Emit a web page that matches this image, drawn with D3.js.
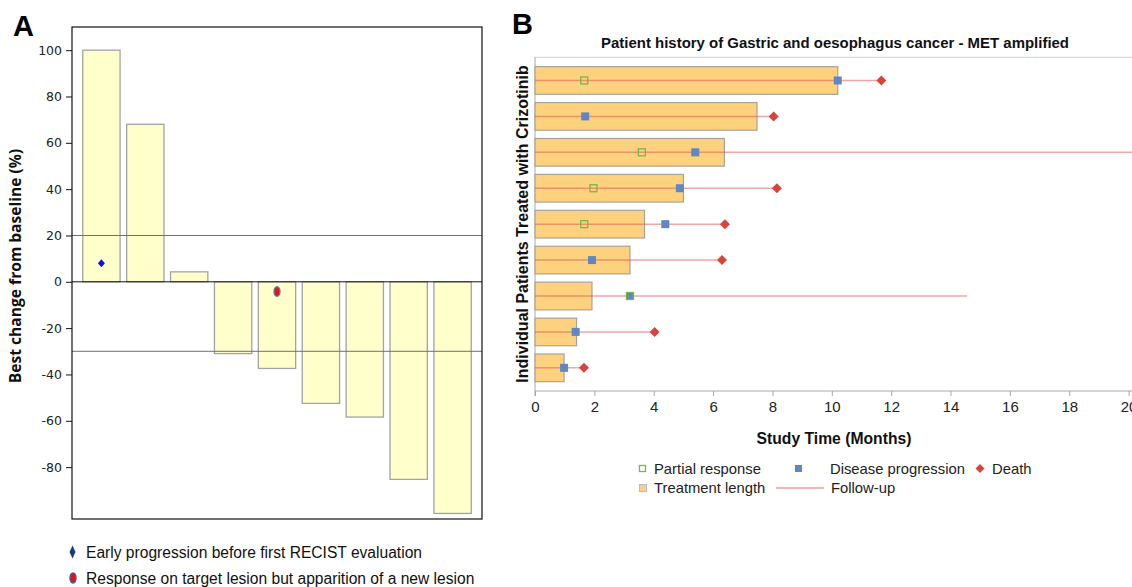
<!DOCTYPE html>
<html><head><meta charset="utf-8">
<script src="https://cdn.jsdelivr.net/npm/d3@7"></script>
<style>body{margin:0;background:#fff;} svg{display:block;}</style>
</head><body>
<svg id="c" width="1132" height="587"></svg>
<script>
// ---------- Panel A data ----------
const patientsA = ["1","2","3","4","5","6","7","8","9"];
const bestChange = [100, 68, 4.3, -31, -37.4, -52.5, -58.4, -85.3, -100];
const yTicksA = [100, 80, 60, 40, 20, 0, -20, -40, -60, -80];
const refLinesA = [20, -30];
const earlyProgression = [{patient: "1", value: 8}];
const newLesion = [{patient: "5", value: -4.2}];
const legendA = ["Early progression before first RECIST evaluation",
                 "Response on target lesion but apparition of a new lesion"];

// ---------- Panel B data ----------
const patientsB = ["1","2","3","4","5","6","7","8","9"];
const treatmentLength = [10.2, 7.48, 6.38, 5.0, 3.69, 3.2, 1.92, 1.40, 0.98];
const followUp = [11.67, 8.04, 20.3, 8.15, 6.4, 6.3, 14.56, 4.03, 1.65];
const partialResponse = [1.66, null, 3.6, 1.97, 1.66, null, 3.2, null, null];
const diseaseProgression = [10.2, 1.69, 5.4, 4.88, 4.39, 1.92, 3.2, 1.37, 0.98];
const death = [11.67, 8.04, null, 8.15, 6.4, 6.3, null, 4.03, 1.65];
const xTicksB = [0, 2, 4, 6, 8, 10, 12, 14, 16, 18, 20];
const titleB = "Patient history of Gastric and oesophagus cancer - MET amplified";

const svg = d3.select("#c");

// ================= PANEL A =================
const A = {l: 72, r: 482, t: 27, b: 519};
const xA = d3.scaleBand().domain(patientsA).range([A.l, A.r]).paddingInner(0.15).paddingOuter(0.245);
const yA = d3.scaleLinear().domain([-102.4, 110]).range([A.b, A.t]);

svg.append("text").attr("x", 13).attr("y", 36).text("A")
  .style("font-family", "Liberation Sans, Arial").style("font-weight", "bold").style("font-size", "29px");

const gA = svg.append("g");
gA.selectAll("rect.bar").data(bestChange).join("rect").attr("class", "bar")
  .attr("x", (d, i) => xA(patientsA[i]))
  .attr("width", xA.bandwidth())
  .attr("y", d => yA(Math.max(0, d)))
  .attr("height", d => Math.abs(yA(d) - yA(0)))
  .attr("fill", "#ffffcc").attr("stroke", "#a3a3a3").attr("stroke-width", 1.3);

gA.selectAll("line.ref").data(refLinesA).join("line").attr("class", "ref")
  .attr("x1", A.l).attr("x2", A.r).attr("y1", d => yA(d)).attr("y2", d => yA(d))
  .attr("stroke", "#6e6e6e").attr("stroke-width", 1);
gA.append("line").attr("x1", A.l).attr("x2", A.r).attr("y1", yA(0)).attr("y2", yA(0))
  .attr("stroke", "#111").attr("stroke-width", 1);

gA.append("rect").attr("x", A.l).attr("y", A.t).attr("width", A.r - A.l).attr("height", A.b - A.t)
  .attr("fill", "none").attr("stroke", "#111").attr("stroke-width", 1.2);

const axA = gA.append("g").attr("transform", `translate(${A.l},0)`)
  .call(d3.axisLeft(yA).tickValues(yTicksA).tickFormat(d => String(d)).tickSize(6).tickPadding(4));
axA.select(".domain").remove();
axA.selectAll("line").attr("stroke", "#111");
axA.selectAll("text").style("font-family", "DejaVu Sans").style("font-size", "12.5px").attr("fill", "#222");

svg.append("text").attr("transform", `translate(21,${(A.t + A.b) / 2 - 7}) rotate(-90)`)
  .attr("text-anchor", "middle").text("Best change from baseline (%)")
  .style("font-family", "Open Sans").style("font-weight", "bold").style("font-size", "15.6px").attr("fill", "#111");

// markers
function diamondPath(cx, cy, w, h) {
  return `M${cx},${cy - h / 2}L${cx + w / 2},${cy}L${cx},${cy + h / 2}L${cx - w / 2},${cy}Z`;
}
gA.selectAll("path.ep").data(earlyProgression).join("path").attr("class", "ep")
  .attr("d", d => diamondPath(xA(d.patient) + xA.bandwidth() / 2, yA(d.value), 7, 8))
  .attr("fill", "#1010ee");
gA.selectAll("ellipse.nl").data(newLesion).join("ellipse").attr("class", "nl")
  .attr("cx", d => xA(d.patient) + xA.bandwidth() / 2).attr("cy", d => yA(d.value))
  .attr("rx", 3).attr("ry", 4.8).attr("fill", "#ee1111").attr("stroke", "#5a7fb0").attr("stroke-width", 1.3);

// legend A
const legA = svg.append("g");
legA.append("path").attr("d", diamondPath(72.5, 552, 6, 13)).attr("fill", "#1d3a7a");
legA.append("ellipse").attr("cx", 73).attr("cy", 578).attr("rx", 3).attr("ry", 5)
  .attr("fill", "#e81010").attr("stroke", "#3d5f9a").attr("stroke-width", 1.4);
legA.selectAll("text").data(legendA).join("text")
  .attr("x", 86).attr("y", (d, i) => 557.5 + i * 26).text(d => d)
  .style("font-family", "Liberation Sans, Arial").style("font-size", "15.6px").attr("fill", "#111");

// ================= PANEL B =================
const B = {l: 535, r: 1132, t: 57.3, b: 391};
const xB = d3.scaleLinear().domain([0, 20]).range([535, 1128.6]);
const yB = d3.scaleBand().domain(patientsB).range([B.t, B.b]).paddingInner(0.23).paddingOuter(0.26);

svg.append("text").attr("x", 512).attr("y", 34).text("B")
  .style("font-family", "Liberation Sans, Arial").style("font-weight", "bold").style("font-size", "29px");

svg.append("text").attr("x", 835).attr("y", 48).attr("text-anchor", "middle").text(titleB)
  .style("font-family", "Liberation Sans, Arial").style("font-weight", "bold").style("font-size", "15px")
  .attr("textLength", 468).attr("lengthAdjust", "spacingAndGlyphs").attr("fill", "#111");

const gB = svg.append("g");
// frame lines
gB.append("line").attr("x1", B.l).attr("x2", B.r).attr("y1", B.t).attr("y2", B.t).attr("stroke", "#cfcfcf");
gB.append("line").attr("x1", B.l).attr("x2", B.l).attr("y1", B.t).attr("y2", B.b + 5).attr("stroke", "#a8a8a8");

const rowC = i => yB(patientsB[i]) + yB.bandwidth() / 2;

gB.selectAll("rect.tl").data(treatmentLength).join("rect").attr("class", "tl")
  .attr("x", xB(0)).attr("y", (d, i) => yB(patientsB[i]))
  .attr("width", d => xB(d) - xB(0)).attr("height", yB.bandwidth())
  .attr("fill", "#fed17e").attr("stroke", "#a8a39a").attr("stroke-width", 1.2);

gB.selectAll("line.fu").data(followUp).join("line").attr("class", "fu")
  .attr("x1", xB(0)).attr("x2", d => Math.min(xB(d), 1132))
  .attr("y1", (d, i) => rowC(i)).attr("y2", (d, i) => rowC(i))
  .attr("stroke", "#d9534f").attr("stroke-opacity", 0.5).attr("stroke-width", 1.5);

// x axis
const axB = gB.append("g").attr("transform", `translate(0,${B.b})`)
  .call(d3.axisBottom(xB).tickValues(xTicksB).tickSize(5).tickPadding(5));
axB.select(".domain").attr("stroke", "#a8a8a8").attr("d", `M${B.l},0H${B.r}`);
axB.selectAll("line").attr("stroke", "#a8a8a8");
axB.selectAll("text").style("font-family", "Liberation Sans, Arial").style("font-size", "15px").attr("fill", "#222");

svg.append("text").attr("x", 834).attr("y", 444).attr("text-anchor", "middle").text("Study Time (Months)")
  .style("font-family", "Liberation Sans, Arial").style("font-weight", "bold").style("font-size", "15.7px").attr("fill", "#111");

svg.append("text").attr("transform", `translate(528,${(65 + 383) / 2}) rotate(-90)`)
  .attr("text-anchor", "middle").text("Individual Patients Treated with Crizotinib")
  .style("font-family", "Liberation Sans, Arial").style("font-weight", "bold").style("font-size", "16px").attr("fill", "#111");

// markers
const pdData = diseaseProgression.map((v, i) => ({v, i})).filter(d => d.v != null);
const prData = partialResponse.map((v, i) => ({v, i})).filter(d => d.v != null);
const deData = death.map((v, i) => ({v, i})).filter(d => d.v != null);

gB.selectAll("rect.pd").data(pdData).join("rect").attr("class", "pd")
  .attr("x", d => xB(d.v) - 4).attr("y", d => rowC(d.i) - 4).attr("width", 8).attr("height", 8)
  .attr("fill", "#5d88c4");
gB.selectAll("rect.pr").data(prData).join("rect").attr("class", "pr")
  .attr("x", d => xB(d.v) - 3.5).attr("y", d => rowC(d.i) - 3.5).attr("width", 7).attr("height", 7)
  .attr("fill", "none").attr("stroke", "#74b84a").attr("stroke-width", 1.3);
gB.selectAll("path.de").data(deData).join("path").attr("class", "de")
  .attr("d", d => diamondPath(xB(d.v), rowC(d.i), 10, 10))
  .attr("fill", "#d9433a");

// legend B
const lf = g => g.style("font-family", "Liberation Sans, Arial").style("font-size", "14.8px").attr("fill", "#222");
const legB = svg.append("g");
legB.append("rect").attr("x", 639.5).attr("y", 465.5).attr("width", 6).attr("height", 6).attr("fill", "none").attr("stroke", "#74b84a").attr("stroke-width", 1.3);
legB.append("text").attr("x", 654).attr("y", 474).text("Partial response").call(lf);
legB.append("rect").attr("x", 795).attr("y", 465).attr("width", 7).attr("height", 7).attr("fill", "#5d88c4");
legB.append("text").attr("x", 830).attr("y", 474).text("Disease progression").call(lf);
legB.append("path").attr("d", diamondPath(980, 468.5, 9, 9)).attr("fill", "#d9433a");
legB.append("text").attr("x", 992).attr("y", 474).text("Death").call(lf);
legB.append("rect").attr("x", 639.5).attr("y", 484.5).attr("width", 7).attr("height", 7).attr("fill", "#fed17e").attr("stroke", "#b8b8d0");
legB.append("text").attr("x", 654).attr("y", 493).text("Treatment length").call(lf);
legB.append("line").attr("x1", 776).attr("x2", 824).attr("y1", 488).attr("y2", 488).attr("stroke", "#e8a0a0").attr("stroke-width", 1.3);
legB.append("text").attr("x", 831).attr("y", 493).text("Follow-up").call(lf);
</script>
</body></html>
